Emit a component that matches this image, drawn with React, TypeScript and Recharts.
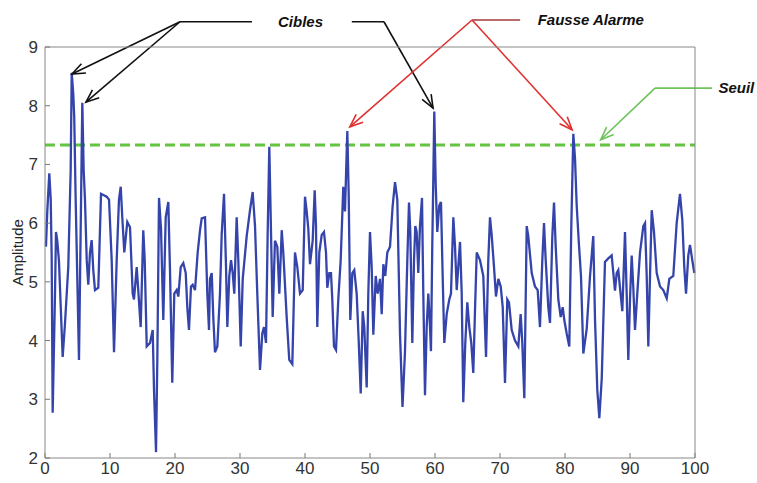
import { LineChart, Line, XAxis, YAxis, ReferenceLine, ReferenceDot } from 'recharts';

// sample positions (x) and the measured amplitude at each one
const sampleX = [
  0.15, 0.35, 0.66, 0.88, 1.03, 1.18, 1.54, 1.69, 1.89, 2.15, 2.72, 3.08, 3.58, 3.95, 4.11, 4.35, 4.5, 4.7,
  5.23, 5.49, 5.74, 5.95, 6.15, 6.42, 6.66, 6.92, 7.18, 7.43, 7.69, 8.2, 8.62, 9.49, 9.85, 10.26, 10.62,
  11.03, 11.38, 11.65, 11.89, 12.2, 12.66, 13.08, 13.49, 13.69, 14.11, 14.31, 14.72, 15.12, 15.34, 15.65,
  16.15, 16.57, 16.77, 17.08, 17.28, 17.54, 17.85, 18.2, 18.57, 18.97, 19.23, 19.58, 19.89, 20.26, 20.51,
  20.88, 21.28, 21.65, 21.89, 22.15, 22.46, 22.72, 23.08, 23.49, 23.85, 24.11, 24.62, 24.97, 25.23, 25.38,
  25.65, 25.89, 26.15, 26.51, 26.92, 27.18, 27.54, 27.85, 28.05, 28.35, 28.62, 28.88, 29.12, 29.49, 29.74,
  30.11, 30.42, 31.03, 31.54, 31.95, 32.31, 32.66, 33.08, 33.43, 33.69, 34.0, 34.26, 34.51, 34.77, 35.03,
  35.38, 35.74, 36.05, 36.42, 36.66, 37.18, 37.58, 38.05, 38.46, 38.82, 39.23, 39.65, 40.0, 40.26, 40.51,
  40.77, 41.18, 41.49, 41.69, 41.89, 42.2, 42.57, 42.92, 43.23, 43.43, 43.74, 44.0, 44.2, 44.46, 44.77,
  45.12, 45.49, 45.89, 46.15, 46.51, 46.72, 46.97, 47.28, 47.58, 47.95, 48.26, 48.57, 48.88, 49.12, 49.49,
  49.74, 50.0, 50.26, 50.51, 50.88, 51.18, 51.54, 51.8, 52.05, 52.35, 52.66, 53.08, 53.49, 53.85, 54.2,
  54.62, 55.0, 55.38, 55.74, 56.0, 56.2, 56.51, 56.77, 56.97, 57.18, 57.43, 57.69, 58.0, 58.2, 58.46,
  58.72, 58.97, 59.23, 59.38, 59.58, 59.74, 59.89, 60.11, 60.35, 60.66, 60.92, 61.18, 61.43, 61.8, 62.2,
  62.46, 62.82, 63.08, 63.34, 63.65, 63.85, 64.11, 64.35, 64.66, 64.97, 65.28, 65.58, 65.89, 66.15, 66.42,
  66.92, 67.43, 67.85, 68.2, 68.46, 68.72, 69.08, 69.38, 69.74, 70.11, 70.42, 70.77, 71.12, 71.38, 71.8,
  72.31, 72.82, 73.18, 73.43, 73.74, 74.11, 74.35, 74.88, 75.38, 75.8, 76.15, 76.51, 76.77, 77.03, 77.43,
  77.69, 78.05, 78.31, 78.57, 78.97, 79.34, 79.65, 79.89, 80.26, 80.66, 80.97, 81.28, 81.54, 81.8, 82.11,
  82.46, 82.82, 83.34, 83.85, 84.35, 84.62, 84.97, 85.28, 85.65, 86.15, 86.66, 87.18, 87.69, 87.95, 88.2,
  88.46, 88.82, 89.23, 89.49, 89.74, 90.0, 90.26, 90.51, 90.77, 91.12, 91.54, 92.05, 92.31, 92.57, 92.82,
  93.08, 93.34, 93.69, 94.11, 94.62, 95.12, 95.65, 96.05, 96.66, 97.18, 97.69, 98.05, 98.35, 98.62, 98.97,
  99.23, 99.58, 99.9,
];

const amplitude = [
  5.6, 6.2, 6.85, 6.4, 5.4, 2.77, 4.8, 5.85, 5.7, 5.35, 3.72, 4.3, 5.25, 6.9, 8.56, 8.2, 7.8, 6.5,
  3.67, 5.9, 8.05, 6.9, 6.4, 5.37, 4.95, 5.5, 5.71, 5.2, 4.86, 4.9, 6.5, 6.45, 6.4, 5.37, 3.8,
  5.37, 6.4, 6.62, 6.1, 5.5, 6.02, 5.93, 4.8, 4.7, 5.25, 4.92, 4.23, 5.88, 5.37, 3.9,
  3.96, 4.18, 3.16, 2.1, 3.67, 6.43, 5.9, 4.35, 6.1, 6.36, 5.2, 3.28, 4.8, 4.86, 4.75,
  5.25, 5.32, 5.15, 4.57, 4.18, 4.92, 4.95, 4.86, 5.5, 5.88, 6.08, 6.1, 4.8, 4.18, 5.05,
  5.15, 4.4, 3.8, 3.9, 4.8, 5.8, 6.5, 5.25, 4.23, 5.1, 5.37, 5.15, 4.8, 6.1, 5.37,
  3.9, 5.05, 5.78, 6.22, 6.53, 5.95, 4.8, 3.5, 4.12, 4.23, 3.96, 5.85, 7.3, 5.85, 4.4,
  5.7, 5.6, 4.8, 5.88, 5.5, 4.4, 3.67, 3.6, 5.5, 5.25, 4.8, 4.86, 6.45, 6.2, 5.9,
  5.3, 5.7, 6.56, 5.95, 4.23, 5.5, 5.8, 5.85, 5.5, 4.9, 5.15, 5.15, 4.7, 3.9, 3.84,
  4.7, 5.37, 6.62, 6.2, 7.57, 6.5, 4.35, 5.15, 5.2, 4.8, 4.0, 3.1, 4.5, 4.23, 3.2,
  4.8, 5.85, 5.25, 4.1, 5.1, 4.8, 5.05, 4.45, 5.3, 5.1, 5.5, 5.6, 6.3, 6.7, 6.4,
  4.1, 2.87, 3.8, 5.37, 6.35, 5.85, 3.96, 5.37, 5.95, 5.85, 5.15, 5.95, 6.43, 4.8, 3.07,
  4.23, 4.8, 4.23, 3.82, 5.6, 6.75, 7.9, 6.65, 5.85, 6.3, 6.36, 5.1, 3.96, 4.45, 4.7,
  4.8, 6.1, 5.6, 4.86, 5.37, 5.68, 4.8, 2.95, 3.96, 4.65, 4.23, 3.96, 3.45, 4.5, 5.5,
  5.37, 5.1, 3.72, 5.37, 6.1, 5.8, 5.25, 4.75, 5.05, 4.92, 4.57, 3.28, 4.7, 4.65, 4.18,
  4.0, 3.9, 4.45, 3.96, 3.02, 5.95, 5.78, 5.15, 4.92, 4.86, 4.23, 5.37, 6.0, 5.37, 4.57,
  4.3, 5.78, 6.35, 5.6, 4.7, 4.4, 4.57, 4.35, 4.12, 3.9, 5.95, 7.52, 7.1, 6.3, 5.7,
  5.1, 3.78, 4.2, 5.1, 5.78, 4.35, 3.16, 2.68, 3.35, 5.34, 5.4, 5.45, 4.85, 5.15, 5.2,
  4.9, 4.5, 5.85, 4.8, 3.67, 4.7, 5.45, 4.9, 4.18, 4.8, 5.5, 5.95, 6.0, 5.1, 3.9,
  5.1, 6.22, 5.85, 5.15, 4.92, 4.86, 4.72, 5.05, 5.1, 6.0, 6.5, 6.05, 5.25, 4.8, 5.45,
  5.63, 5.37, 5.15,
];

const xTicks = [0, 10, 20, 30, 40, 50, 60, 70, 80, 90, 100];
const yTicks = [2, 3, 4, 5, 6, 7, 8, 9];
const threshold = 7.33;

const data = sampleX.map((x, i) => ({ x, amplitude: amplitude[i] }));

// annotation arrows, in data coordinates (drawn outside the plot too)
const arrows = [
  { from: [20.77, 9.43], to: [31.85, 9.43], color: '#111', head: false },
  { from: [20.77, 9.43], to: [4.15, 8.54], color: '#111', head: true },
  { from: [20.77, 9.43], to: [6.3, 8.06], color: '#111', head: true },
  { from: [47.2, 9.43], to: [52.15, 9.43], color: '#111', head: false },
  { from: [52.15, 9.43], to: [59.7, 7.96], color: '#111', head: true },
  { from: [65.7, 9.46], to: [73.1, 9.46], color: '#a33a3a', head: false },
  { from: [65.7, 9.46], to: [46.9, 7.64], color: '#e03030', head: true },
  { from: [65.7, 9.46], to: [81.1, 7.59], color: '#e03030', head: true },
  { from: [93.85, 8.3], to: [102.6, 8.3], color: '#6cc35a', head: false },
  { from: [93.85, 8.3], to: [85.5, 7.42], color: '#6cc35a', head: true },
];

const labels = [
  { text: 'Cibles', at: [35.85, 9.43] },
  { text: 'Fausse Alarme', at: [75.8, 9.46] },
  { text: 'Seuil', at: [103.6, 8.3] },
];

const font = '"Liberation Sans", Arial, sans-serif';

const arrowShape = (color: string, head: boolean) => (p: any) => {
  const { x1, y1, x2, y2 } = p;
  const ang = Math.atan2(y2 - y1, x2 - x1);
  const len = 14;
  const spread = 0.38;
  const a = [x2 - len * Math.cos(ang - spread), y2 - len * Math.sin(ang - spread)];
  const b = [x2 - len * Math.cos(ang + spread), y2 - len * Math.sin(ang + spread)];
  return (
    <g>
      <line x1={x1} y1={y1} x2={x2} y2={y2} stroke={color} strokeWidth={1.6} />
      {head && (
        <polyline
          points={`${a[0]},${a[1]} ${x2},${y2} ${b[0]},${b[1]}`}
          fill="none"
          stroke={color}
          strokeWidth={1.6}
        />
      )}
    </g>
  );
};

const labelShape = (text: string) => (p: any) => (
  <text
    x={p.cx}
    y={p.cy}
    dy="0.35em"
    fontFamily={font}
    fontSize={15}
    fontWeight="bold"
    fontStyle="italic"
    fill="#111"
  >
    {text}
  </text>
);

export default function App() {
  return (
    <div style={{ position: 'absolute', left: 0, top: 0, background: '#fff' }}>
      <LineChart
        width={757}
        height={483}
        data={data}
        margin={{ top: 46, right: 61, left: 5, bottom: 5 }}
        style={{ fontFamily: font }}
      >
        <XAxis
          xAxisId="b"
          dataKey="x"
          type="number"
          domain={[0, 100]}
          ticks={xTicks}
          interval={0}
          height={20}
          tickSize={-5}
          tickMargin={9}
          axisLine={{ stroke: '#888' }}
          tickLine={{ stroke: '#777' }}
          tick={{ fontSize: 17, fill: '#333' }}
        />
        <XAxis
          xAxisId="t"
          orientation="top"
          dataKey="x"
          type="number"
          domain={[0, 100]}
          ticks={xTicks}
          interval={0}
          height={1}
          tickSize={-5}
          axisLine={{ stroke: '#888' }}
          tickLine={{ stroke: '#777' }}
          tick={false}
        />
        <YAxis
          yAxisId="l"
          type="number"
          domain={[2, 9]}
          ticks={yTicks}
          interval={0}
          width={40}
          tickSize={-5}
          tickMargin={12}
          axisLine={{ stroke: '#888' }}
          tickLine={{ stroke: '#777' }}
          tick={{ fontSize: 17, fill: '#333' }}
          label={{
            value: 'Amplitude',
            angle: -90,
            position: 'insideLeft',
            dx: 8,
            style: { fontSize: 15, fill: '#222', textAnchor: 'middle' },
          }}
        />
        <YAxis
          yAxisId="r"
          orientation="right"
          type="number"
          domain={[2, 9]}
          ticks={yTicks}
          interval={0}
          width={1}
          tickSize={-5}
          axisLine={{ stroke: '#888' }}
          tickLine={{ stroke: '#777' }}
          tick={false}
        />
        <ReferenceLine
          xAxisId="b"
          yAxisId="l"
          y={threshold}
          stroke="#63c43f"
          strokeWidth={3}
          strokeDasharray="10 5"
        />
        <Line
          xAxisId="b"
          yAxisId="l"
          type="linear"
          dataKey="amplitude"
          stroke="#3444aa"
          strokeWidth={2.3}
          dot={false}
          isAnimationActive={false}
        />
        {arrows.map((a, i) => (
          <ReferenceLine
            key={i}
            xAxisId="b"
            yAxisId="l"
            ifOverflow="visible"
            segment={[
              { x: a.from[0], y: a.from[1] },
              { x: a.to[0], y: a.to[1] },
            ]}
            shape={arrowShape(a.color, a.head)}
          />
        ))}
        {labels.map((l, i) => (
          <ReferenceDot
            key={i}
            xAxisId="b"
            yAxisId="l"
            ifOverflow="visible"
            x={l.at[0]}
            y={l.at[1]}
            r={0}
            shape={labelShape(l.text)}
          />
        ))}
      </LineChart>
    </div>
  );
}
